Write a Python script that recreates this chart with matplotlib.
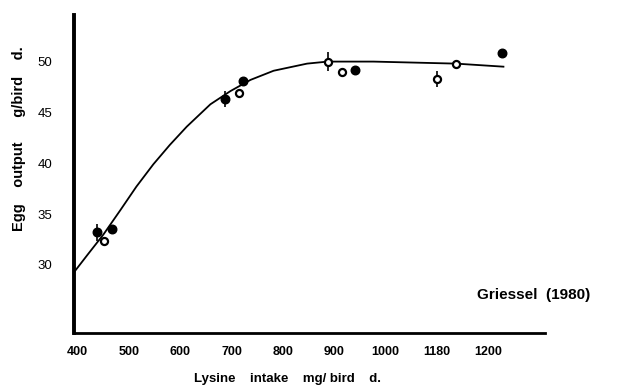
import numpy as np
import matplotlib
matplotlib.use("Agg")
import matplotlib.pyplot as plt

# ---------------------------------------------------------------------
# Data
# ---------------------------------------------------------------------
# filled circles
filled_x = [439, 467, 688, 722, 940, 1227]
filled_y = [33.2, 33.5, 46.3, 48.1, 49.2, 50.8]

# open circles
open_x = [452, 714, 887, 915, 1100, 1137]
open_y = [32.4, 46.9, 50.0, 49.0, 48.3, 49.8]

# points that carry a vertical error bar (x, y, half length)
err_x = [439, 688, 887, 1100]
err_y = [33.2, 46.3, 50.0, 48.3]
err_len = [0.8, 0.8, 0.9, 0.8]

# fitted response curve
curve_x = [394, 420, 451, 484, 515, 548, 580, 613, 659, 698, 737, 782, 847, 887, 976, 1137, 1229]
curve_y = [29.3, 31.0, 33.0, 35.4, 37.7, 39.9, 41.8, 43.6, 45.8, 47.1, 48.2, 49.1, 49.8, 50.0, 50.0, 49.8, 49.5]

x_ticks = [400, 500, 600, 700, 800, 900, 1000, 1100, 1200]
x_tick_labels = ["400", "500", "600", "700", "800", "900", "1000", "1180", "1200"]
y_ticks = [30, 35, 40, 45, 50]
y_tick_labels = ["30", "35", "40", "45", "50"]

# ---------------------------------------------------------------------
# Figure
# ---------------------------------------------------------------------
plt.rcParams["font.family"] = ["Liberation Sans", "DejaVu Sans"]

fig = plt.figure(figsize=(6.18, 3.90), dpi=100)
ax = fig.add_axes([0.12, 0.146, 0.762, 0.816])

ax.plot(curve_x, curve_y, color="black", lw=1.3, zorder=2)
ax.vlines(err_x, np.array(err_y) - np.array(err_len), np.array(err_y) + np.array(err_len),
          color="black", lw=1.2, zorder=2)
ax.scatter(filled_x, filled_y, s=38, color="black", zorder=3)
ax.scatter(open_x, open_y, s=26, facecolor="white", edgecolor="black", lw=1.6, zorder=3)

ax.set_xlim(394, 1310)
ax.set_ylim(23.3, 54.6)

ax.set_xticks(x_ticks)
ax.set_xticklabels(x_tick_labels, fontsize=9, fontweight="bold")
ax.set_yticks(y_ticks)
ax.set_yticklabels(y_tick_labels, fontsize=9.5)
ax.tick_params(axis="both", length=0)
ax.tick_params(axis="x", pad=9)
ax.tick_params(axis="y", pad=16)

for side in ["top", "right"]:
    ax.spines[side].set_visible(False)
ax.spines["left"].set_linewidth(2.8)
ax.spines["bottom"].set_linewidth(2.0)

ax.set_xlabel("Lysine    intake    mg/ bird    d.", fontsize=9.5, fontweight="bold")
ax.xaxis.set_label_coords(0.452, -0.125)
fig.text(0.03, 0.645, "Egg    output      g/bird    d.", rotation=90, fontsize=10.5,
         fontweight="bold", ha="center", va="center")

ax.text(0.975, 0.12, "Griessel  (1980)", transform=ax.transAxes, fontsize=11,
        fontweight="bold", ha="center", va="center", clip_on=False)

fig.savefig("out.png", dpi=100)
